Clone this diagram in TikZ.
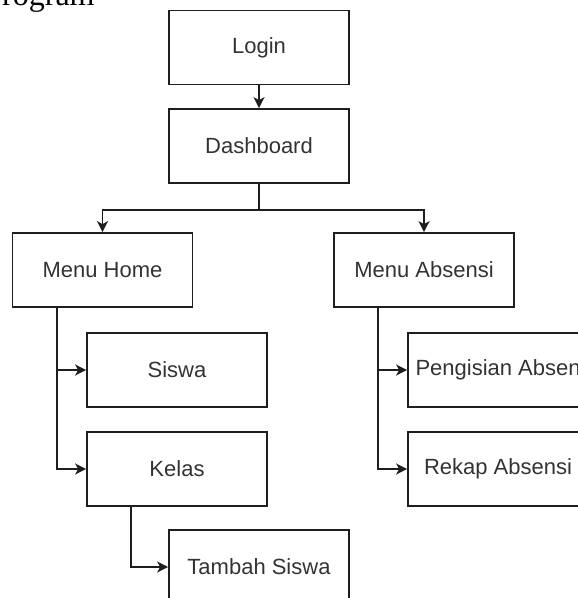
\documentclass[tikz,border=0pt]{standalone}
\usepackage{fontspec}
\setmainfont{Liberation Sans}
\newfontfamily\headfont{Liberation Serif}
\usetikzlibrary{arrows.meta,calc}
\definecolor{txt}{RGB}{51,51,51}
\definecolor{edge}{RGB}{30,30,30}
\tikzset{
  box/.style={draw=edge, line width=0.85pt, rectangle, minimum width=90pt,
    minimum height=37pt, inner sep=0pt, font=\fontsize{11}{13}\selectfont,
    text=txt},
  arr/.style={draw=edge, line width=0.85pt,
    -{Stealth[length=5.5pt,width=5.5pt,inset=1.5pt]}},
  ln/.style={draw=edge, line width=0.85pt}
}
\begin{document}
\begin{tikzpicture}[x=0.5pt,y=-0.5pt]
\useasboundingbox (0,0) rectangle (577,598);
% heading fragment of the surrounding text
\node[anchor=base east, inner sep=0pt, font=\headfont\fontsize{16}{18}\selectfont] (head) at (95,6) {Program};
% boxes
\node[box] (login) at (259,47.5) {Login};
\node[box] (dash) at (259,146) {Dashboard};
\node[box] (mhome) at (102.5,270) {Menu Home};
\node[box] (mabs) at (424,270) {Menu Absensi};
\node[box] (siswa) at (177,370) {Siswa};
\node[box] (kelas) at (177,469) {Kelas};
\node[box] (tambah) at (259,567) {Tambah Siswa};
% long label, set a little right of the box centre and allowed to overflow
\node[box] (isi) at (498,370) {\hspace*{8pt}\makebox[0pt]{Pengisian Absensi}};
\node[box] (rekap) at (498,469) {Rekap Absensi};
% connectors
\coordinate (j) at ($(dash.south)+(0,26)$);
\draw[arr] (login) -- (dash);
\draw[ln] (dash.south) -- (j);
\draw[arr] (j) -| (mhome.north);
\draw[arr] (j) -| (mabs.north);
\coordinate (hm) at ($(mhome.south west)+(45,0)$);
\coordinate (ab) at ($(mabs.south west)+(45,0)$);
\coordinate (kl) at ($(kelas.south west)+(45,0)$);
\draw[arr] (hm) |- (siswa.west);
\draw[arr] (hm) |- (kelas.west);
\draw[arr] (ab) |- (isi.west);
\draw[arr] (ab) |- (rekap.west);
\draw[arr] (kl) |- (tambah.west);
\end{tikzpicture}
\end{document}
